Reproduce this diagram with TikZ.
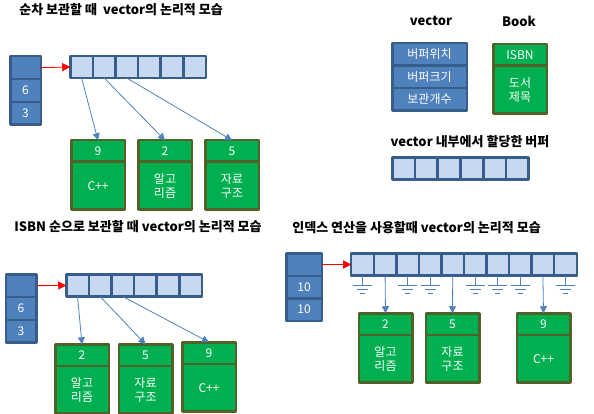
\documentclass[tikz,border=0pt]{standalone}
\usepackage{fontspec}
\setmainfont{Noto Sans CJK KR}
\usetikzlibrary{positioning, arrows.meta}
\definecolor{vecblue}{HTML}{4F81BD}
\definecolor{vecline}{HTML}{385D8A}
\definecolor{buflight}{HTML}{C6D9F1}
\definecolor{bookgreen}{HTML}{00B050}
\definecolor{bookline}{HTML}{4F6228}
\newcommand{\bookcard}[5]{%
  \node[bkhead, anchor=north] (#1h) at (#2,#3) {#4};
  \node[bkbody, below=0pt of #1h] (#1b) {#5};}

\begin{document}
\begin{tikzpicture}[x=1pt, y=-1pt, line join=round, outer sep=0pt,
    title/.style = {font=\bfseries\fontsize{13}{15}\selectfont},
    vcell/.style = {draw=vecline, fill=vecblue, line width=2.5pt, text=white,
                    minimum width=30.5pt, minimum height=22.8pt, inner sep=0pt,
                    font=\fontsize{12}{14}\selectfont},
    bcell/.style = {draw=vecline, fill=buflight, line width=2.5pt,
                    minimum width=22.6pt, minimum height=22pt, inner sep=0pt},
    bkhead/.style = {draw=bookline, fill=bookgreen, line width=2.5pt, text=white,
                     minimum width=53.5pt, minimum height=21.5pt, inner sep=0pt,
                     font=\fontsize{12}{14}\selectfont},
    bkbody/.style = {bkhead, minimum height=47.75pt, align=center},
    ptr/.style = {-{Triangle[length=7pt, width=7pt]}, draw=vecblue, line width=0.8pt},
    link/.style = {-{Triangle[length=8pt, width=8pt]}, draw=red, fill=red, line width=0.8pt},
    gnd/.style = {draw=vecblue, line width=0.8pt}]
    \useasboundingbox (0,0) rectangle (594,414);

    % sequential storage
    \node[title, anchor=west] (t1) at (16,10) {순차 보관할 때\ \ vector의 논리적 모습};
    \node[vcell, anchor=north] (v1a) at (25.5,56.25) {};
    \node[vcell, below=0pt of v1a] (v1b) {6};
    \node[vcell, below=0pt of v1b] (v1c) {3};
    \foreach \i in {1,...,6}
        \node[bcell] (a1c\i) at ({70.25+22.6*(\i-0.5)},67) {};
    \bookcard{b11}{98}{140.25}{9}{C++}
    \bookcard{b12}{165}{140.25}{2}{알고\\리즘}
    \bookcard{b13}{232}{140.25}{5}{자료\\구조}
    \draw[link] (v1a.east) -- (a1c1.west);
    \draw[ptr] (a1c1.south) -- (b11h.north);
    \draw[ptr] (a1c2.south) -- (b12h.north);
    \draw[ptr] (a1c3.south) -- (b13h.north);

    % legend
    \node[title] (tv) at (431,21) {vector};
    \node[title] (tb) at (519,21) {Book};
    \node[vcell, minimum width=74.5pt, minimum height=22.5pt, anchor=north] (s1) at (429.5,43.25) {버퍼위치};
    \node[vcell, minimum width=74.5pt, minimum height=22.5pt, below=0pt of s1] (s2) {버퍼크기};
    \node[vcell, minimum width=74.5pt, minimum height=22.5pt, below=0pt of s2] (s3) {보관개수};
    \bookcard{bk}{520}{44.25}{ISBN}{도서\\제목}
    \node[title] (tbuf) at (470,142) {vector 내부에서 할당한 버퍼};
    \foreach \i in {1,...,6}
        \node[bcell] (bufc\i) at ({392.25+22.75*(\i-0.5)},168.5) {};

    % sorted by ISBN
    \node[title, anchor=west] (t3) at (11,227) {ISBN 순으로 보관할 때 vector의 논리적 모습};
    \node[vcell, anchor=north] (v3a) at (21,274.25) {};
    \node[vcell, below=0pt of v3a] (v3b) {6};
    \node[vcell, below=0pt of v3b] (v3c) {3};
    \foreach \i in {1,...,6}
        \node[bcell] (a3c\i) at ({66.25+22.6*(\i-0.5)},285.5) {};
    \bookcard{b31}{82}{344.25}{2}{알고\\리즘}
    \bookcard{b32}{145.5}{344.25}{5}{자료\\구조}
    \bookcard{b33}{209}{342.25}{9}{C++}
    \draw[link] (v3a.east) -- (a3c1.west);
    \draw[ptr] (a3c1.south) -- (b31h.north);
    \draw[ptr] (a3c2.south) -- (b32h.north);
    \draw[ptr] (a3c3.south) -- (b33h.north);

    % indexed
    \node[title, anchor=west] (t4) at (289,228) {인덱스 연산을 사용할때 vector의 논리적 모습};
    \node[vcell, minimum width=35.5pt, minimum height=22.5pt, anchor=north] (v4a) at (304,253.25) {};
    \node[vcell, minimum width=35.5pt, minimum height=22.5pt, below=0pt of v4a] (v4b) {10};
    \node[vcell, minimum width=35.5pt, minimum height=22.5pt, below=0pt of v4b] (v4c) {10};
    \foreach \i in {1,...,10}
        \node[bcell] (a4c\i) at ({351.25+22.55*(\i-0.5)},264.5) {};
    \bookcard{b41}{385.5}{313.25}{2}{알고\\리즘}
    \bookcard{b42}{452.5}{313.25}{5}{자료\\구조}
    \bookcard{b43}{543.5}{313.25}{9}{C++}
    \draw[link] (v4a.east) -- (a4c1.west);
    \draw[ptr] (a4c2.south) -- (b41h.north);
    \draw[ptr] (a4c5.south) -- (b42h.north);
    \draw[ptr] (a4c9.south) -- (b43h.north);
    \foreach \k in {1,3,4,6,7,8,10}
        \draw[gnd] (a4c\k.south) -- ++(0,10) ++(-9.5,0) -- ++(19,0)
                   ++(-15,4) -- ++(11,0) ++(-8,4) -- ++(5,0);
\end{tikzpicture}
\end{document}
